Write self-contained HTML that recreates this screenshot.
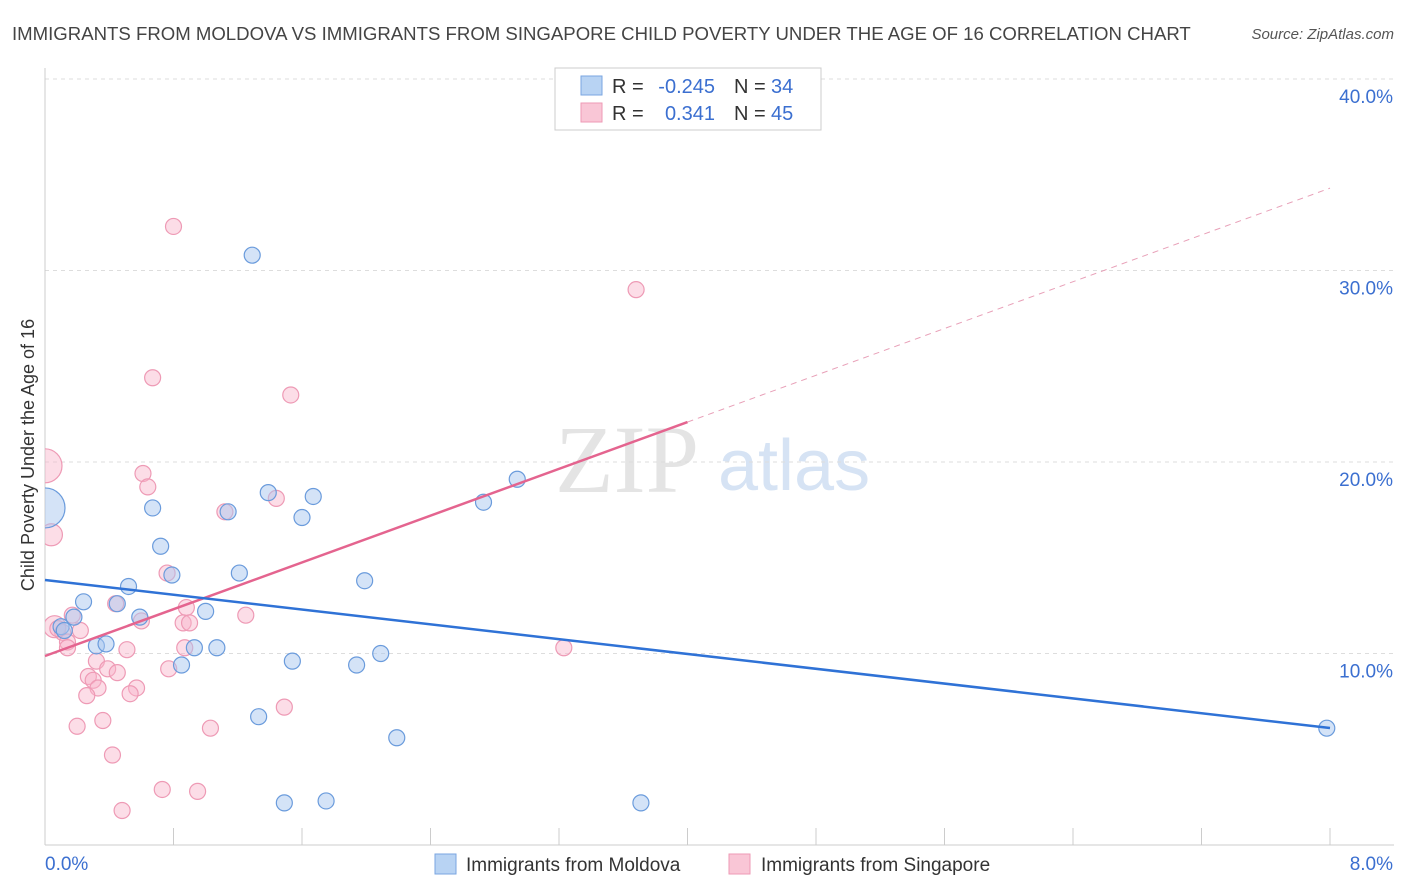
<!DOCTYPE html>
<html><head><meta charset="utf-8"><style>
body{margin:0;background:#fff;font-family:"Liberation Sans",sans-serif;}
svg{display:block}
</style></head><body>
<svg id="chart" width="1406" height="892">
<defs><clipPath id="plotclip"><rect x="45" y="60" width="1360" height="785"/></clipPath></defs>
<text x="12" y="40" font-size="18.6" fill="#444">IMMIGRANTS FROM MOLDOVA VS IMMIGRANTS FROM SINGAPORE CHILD POVERTY UNDER THE AGE OF 16 CORRELATION CHART</text>
<text x="1394" y="39" font-size="15" fill="#555" text-anchor="end" font-style="italic">Source: ZipAtlas.com</text>
<text x="34" y="455" font-size="18" fill="#333" text-anchor="middle" transform="rotate(-90 34 455)">Child Poverty Under the Age of 16</text>
<g><text x="555" y="492" font-size="96" fill="#e4e4e4" font-family="Liberation Serif,serif">ZIP</text><text x="718" y="490" font-size="72" fill="#d6e3f4">atlas</text></g>
<g id="grid"></g><g id="axes"></g><g id="pts" clip-path="url(#plotclip)"></g><g id="lines"></g>
<g>
<rect x="555" y="68" width="266" height="62" fill="#fff" stroke="#ccc"/>
<rect x="581" y="76" width="21" height="19" fill="#b8d3f3" stroke="#7aa6e0"/>
<rect x="581" y="103" width="21" height="19" fill="#f9c6d6" stroke="#ee9ab5"/>
<text x="612" y="93" font-size="20" fill="#333">R =</text>
<text x="715" y="93" font-size="20" fill="#3b6fd0" text-anchor="end">-0.245</text>
<text x="734" y="93" font-size="20" fill="#333">N =</text>
<text x="771" y="93" font-size="20" fill="#3b6fd0">34</text>
<text x="612" y="120" font-size="20" fill="#333">R =</text>
<text x="715" y="120" font-size="20" fill="#3b6fd0" text-anchor="end">0.341</text>
<text x="734" y="120" font-size="20" fill="#333">N =</text>
<text x="771" y="120" font-size="20" fill="#3b6fd0">45</text>
</g>
<g>
<rect x="435" y="854" width="21" height="20" fill="#b8d3f3" stroke="#7aa6e0"/>
<text x="466" y="871" font-size="19" fill="#333">Immigrants from Moldova</text>
<rect x="729" y="854" width="21" height="20" fill="#f9c6d6" stroke="#ee9ab5"/>
<text x="761" y="871" font-size="19" fill="#333">Immigrants from Singapore</text>
</g>
</svg>
<script>
const yTicks=[10,20,30,40];
const xTickLabels=["0.0%","8.0%"];
const blueX=[1.29,0,0.67,1.39,1.67,1.60,2.94,2.73,1.14,0.72,0.79,1.21,1.99,0.52,0.24,0.45,0.59,1.00,0.18,0.10,0.12,0.32,0.38,0.93,1.07,0.85,1.54,1.94,2.09,1.33,2.19,1.49,1.75,3.71,7.98];
const blueY=[30.8,17.6,17.6,18.4,18.2,17.1,19.1,17.9,17.4,15.6,14.1,14.2,13.8,13.5,12.7,12.6,11.9,12.2,11.9,11.4,11.2,10.4,10.5,10.3,10.3,9.4,9.6,9.4,10.0,6.7,5.6,2.2,2.3,2.2,6.1];
const blueR=[8,20,8,8,8,8,8,8,8,8,8,8,8,8,8,8,8,8,8,8,8,8,8,8,8,8,8,8,8,8,8,8,8,8,8];
const pinkX=[0.80,3.68,0.67,1.53,0,0.61,0.64,1.44,1.12,0.04,0.76,0.44,0.88,1.25,0.17,0.60,0.86,0.90,0.06,0.11,0.22,0.14,0.14,0.51,0.87,3.23,0.32,0.39,0.77,0.45,0.27,0.30,0.33,0.57,0.26,0.53,1.49,0.36,0.20,1.03,0.42,0.73,0.95,0.48,0.08];
const pinkY=[32.3,29.0,24.4,23.5,19.8,19.4,18.7,18.1,17.4,16.2,14.2,12.6,12.4,12.0,12.0,11.7,11.6,11.6,11.4,11.1,11.2,10.6,10.3,10.2,10.3,10.3,9.6,9.2,9.2,9.0,8.8,8.6,8.2,8.2,7.8,7.9,7.2,6.5,6.2,6.1,4.7,2.9,2.8,1.8,11.3];
const pinkR=[8,8,8,8,17,8,8,8,8,11,8,8,8,8,8,8,8,8,11,8,8,8,8,8,8,8,8,8,8,8,8,8,8,8,8,8,8,8,8,8,8,8,8,8,8];
const blueFit=[13.84,6.11];
const pinkFit=[9.87,34.3];
const pinkSolidEnd=4.0;
const NS="http://www.w3.org/2000/svg";
const X0=45,X1=1330,Y0=845,PY=19.15;
const sx=v=>X0+(X1-X0)*v/8, sy=v=>Y0-v*PY;
function mk(t,a,p){const e=document.createElementNS(NS,t);for(const k in a)e.setAttribute(k,a[k]);p.appendChild(e);return e;}
const grid=document.getElementById('grid'),axes=document.getElementById('axes'),lines=document.getElementById('lines'),pts=document.getElementById('pts');
yTicks.forEach(t=>{
 const l=mk('line',{x1:X0,x2:1394,y1:sy(t),y2:sy(t),stroke:'#ddd','stroke-dasharray':'4,4'},grid);
 
 
 const tx=mk('text',{x:1393,y:sy(t)+24,'font-size':19,fill:'#3b6fd0','text-anchor':'end'},axes);
 tx.textContent=t.toFixed(1)+'%';
 
 
});
const ax=mk('line',{x1:X0,x2:X0,y1:68,y2:Y0,stroke:'#ccc'},axes);


const bx=mk('line',{x1:X0,x2:1394,y1:Y0,y2:Y0,stroke:'#ccc'},axes);


for(let i=0;i<=10;i++){const tk=mk('line',{x1:sx(i*0.8),x2:sx(i*0.8),y1:828,y2:Y0,stroke:'#ccc'},axes);
 
 }
const t0=mk('text',{x:45,y:870,'font-size':19,fill:'#3b6fd0'},axes);t0.textContent=xTickLabels[0];


const t1=mk('text',{x:1393,y:870,'font-size':19,fill:'#3b6fd0','text-anchor':'end'},axes);t1.textContent=xTickLabels[1];


function drawPts(xs,ys,rs,fill,stroke,name){xs.forEach((x,i)=>{const c=mk('circle',{cx:sx(x),cy:sy(ys[i]),r:rs[i],fill:fill,stroke:stroke,'stroke-width':1.2},pts);
 
 });}
drawPts(pinkX,pinkY,pinkR,'rgba(248,180,202,0.45)','#ee9ab5','singapore-point');
drawPts(blueX,blueY,blueR,'rgba(170,200,240,0.5)','#6a9bdc','moldova-point');
const pf=v=>pinkFit[0]+(pinkFit[1]-pinkFit[0])*v/8;
const pl=mk('line',{x1:sx(0),y1:sy(pf(0)),x2:sx(pinkSolidEnd),y2:sy(pf(pinkSolidEnd)),stroke:'#e4648f','stroke-width':2.5},lines);


const pd=mk('line',{x1:sx(pinkSolidEnd),y1:sy(pf(pinkSolidEnd)),x2:sx(8),y2:sy(pf(8)),stroke:'#e8a0b8','stroke-width':1,'stroke-dasharray':'6,5'},lines);


const bl=mk('line',{x1:sx(0),y1:sy(blueFit[0]),x2:sx(8),y2:sy(blueFit[1]),stroke:'#2f72d6','stroke-width':2.5},lines);


</script>
</body></html>
